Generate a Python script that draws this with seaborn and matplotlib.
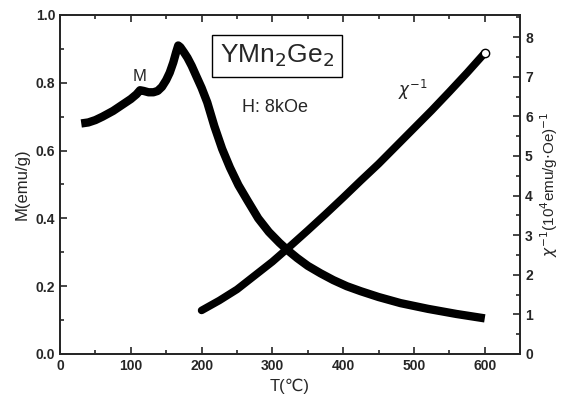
import numpy as np
import pandas as pd
import matplotlib
matplotlib.use('Agg')
import matplotlib.pyplot as plt
import seaborn as sns
from matplotlib.ticker import MultipleLocator

# M(T) curve
t_m = [30, 40, 50, 60, 75, 90, 100, 108, 113, 118, 125, 132, 138, 144, 150, 155, 160, 164, 167,
       170, 175, 180, 186, 192, 200, 208, 218, 229, 240, 252, 265, 280, 295, 310, 321, 335, 350,
       368, 386, 405, 425, 450, 481, 520, 560, 600]
m_val = [0.68, 0.683, 0.69, 0.70, 0.717, 0.738, 0.752, 0.766, 0.778, 0.776, 0.772, 0.772, 0.776,
         0.788, 0.808, 0.83, 0.86, 0.89, 0.91, 0.905, 0.89, 0.874, 0.85, 0.822, 0.785, 0.742,
         0.672, 0.605, 0.55, 0.498, 0.452, 0.40, 0.36, 0.328, 0.307, 0.283, 0.26, 0.238, 0.218,
         0.2, 0.185, 0.168, 0.15, 0.133, 0.118, 0.105]

# inverse susceptibility
t_chi = [200, 225, 250, 275, 300, 325, 350, 375, 400, 425, 450, 475, 500, 525, 550, 575, 600]
chi_inv = [1.1, 1.35, 1.63, 1.98, 2.33, 2.72, 3.12, 3.53, 3.95, 4.38, 4.8, 5.25, 5.7, 6.15, 6.62,
           7.1, 7.6]

sns.set_style('ticks')
plt.rcParams['font.family'] = ['Liberation Sans', 'DejaVu Sans']

df_m = pd.DataFrame({'T': t_m, 'M': m_val})
df_c = pd.DataFrame({'T': t_chi, 'chi': chi_inv})

fig = plt.figure(figsize=(5.81, 4.05), dpi=100)
ax = fig.add_axes([0.1033, 0.126, 0.792, 0.837])
ax2 = ax.twinx()

sns.lineplot(data=df_m, x='T', y='M', ax=ax, color='black', linewidth=6, estimator=None,
             solid_capstyle='butt', solid_joinstyle='round')
sns.lineplot(data=df_c, x='T', y='chi', ax=ax2, color='black', linewidth=5.5, estimator=None,
             solid_capstyle='round', solid_joinstyle='round')
ax2.plot(t_chi[-1], chi_inv[-1], 'o', ms=6, mfc='white', mec='black', mew=1)

ax.set_xlim(0, 650)
ax.set_ylim(0, 1.0)
ax2.set_ylim(0, 8.56)

ax.xaxis.set_major_locator(MultipleLocator(100))
ax.xaxis.set_minor_locator(MultipleLocator(50))
ax.yaxis.set_major_locator(MultipleLocator(0.2))
ax.yaxis.set_minor_locator(MultipleLocator(0.1))
ax2.yaxis.set_major_locator(MultipleLocator(1))
ax2.yaxis.set_minor_locator(MultipleLocator(0.5))

ax.tick_params(which='both', direction='in', top=True, labelsize=10, width=1.2)
ax.tick_params(which='major', length=5)
ax.tick_params(which='minor', length=3)
ax2.tick_params(which='both', direction='in', labelsize=10, width=1.2)
ax2.tick_params(which='major', length=5)
ax2.tick_params(which='minor', length=3)
ax.yaxis.set_major_formatter(matplotlib.ticker.FormatStrFormatter('%.1f'))

for a in (ax, ax2):
    for s in a.spines.values():
        s.set_linewidth(1.3)
    for lab in a.get_xticklabels() + a.get_yticklabels():
        lab.set_fontweight('bold')

ax.set_xlabel('T(\u2103)', fontsize=12)
ax.set_ylabel('M(emu/g)', fontsize=12)
ax2.set_ylabel('$\\chi^{-1}$(10$^{4}$emu/g$\\cdot$Oe)$^{-1}$', fontsize=11)

ax.text(112, 0.82, 'M', fontsize=12, ha='center', va='center')
ax.text(307, 0.879, 'YMn$_{2}$Ge$_{2}$', fontsize=19, ha='center', va='center',
        bbox=dict(boxstyle='square,pad=0.3', fc='white', ec='black', lw=1))
ax.text(304, 0.726, 'H: 8kOe', fontsize=13, ha='center', va='center')
ax.text(498, 0.78, '$\\chi^{-1}$', fontsize=12, ha='center', va='center')

fig.savefig('out.png', dpi=100)
